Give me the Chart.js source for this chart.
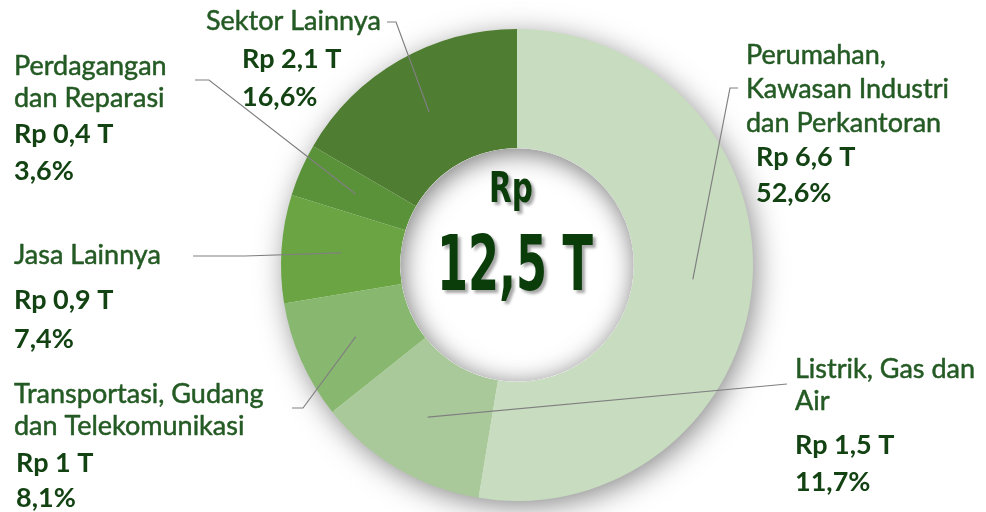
<!DOCTYPE html>
<html>
<head>
<meta charset="utf-8">
<script src="https://cdn.jsdelivr.net/npm/chart.js@4.4.0/dist/chart.umd.min.js"></script>
<style>
  body { margin: 0; background: #fff; }
  #wrap { width: 986px; height: 512px; }
</style>
</head>
<body>
<div id="wrap"><canvas id="investChart" width="986" height="512"></canvas></div>
<script>
// sektor, nilai (Rp triliun) dan porsi (%)
const categories = [
    ['Perumahan,', 'Kawasan Industri', 'dan Perkantoran'],
    ['Listrik, Gas dan', 'Air'],
    ['Transportasi, Gudang', 'dan Telekomunikasi'],
    ['Jasa Lainnya'],
    ['Perdagangan', 'dan Reparasi'],
    ['Sektor Lainnya']
];
const valuesT = [6.6, 1.5, 1, 0.9, 0.4, 2.1];
const shares = [52.6, 11.7, 8.1, 7.4, 3.6, 16.6];
const totalLabel = ['Rp', '12,5 T'];

const sliceColors = ['#c8dcc0', '#a9c99a', '#88b76f', '#6aa443', '#5a9239', '#4f7d31'];

// where each label sits, and the bend of its leader line
const labelLayout = [
    { x: 746, names: [64, 98, 132], vx: 756, vy: 166, sy: 202, leader: [[738, 88], [730, 88]] },
    { x: 795, names: [378, 410], vx: 795, vy: 454, sy: 491, leader: [[787, 384]] },
    { x: 14, names: [403, 435], vx: 16, vy: 472, sy: 507, leader: [[292, 408], [303, 408]] },
    { x: 14, names: [264], vx: 14, vy: 309, sy: 348, leader: [[193, 256], [245, 256]] },
    { x: 14, names: [75, 107], vx: 14, vy: 143, sy: 180, leader: [[195, 80], [209, 80]] },
    { x: 206, names: [30], vx: 242, vy: 68, sy: 106, leader: [[387, 22], [396, 22]] }
];

const fmt = v => String(v).replace('.', ',');

const ringShadow = {
    id: 'ringShadow',
    beforeDatasetsDraw(chart) {
        const arc = chart.getDatasetMeta(0).data[0];
        const ctx = chart.ctx;
        ctx.save();
        ctx.shadowColor = 'rgba(0,0,0,0.5)';
        ctx.shadowBlur = 30;
        ctx.shadowOffsetX = 4;
        ctx.shadowOffsetY = 6;
        ctx.fillStyle = '#fff';
        ctx.beginPath();
        ctx.arc(arc.x, arc.y, arc.outerRadius - 2, 0, Math.PI * 2);
        ctx.fill();
        ctx.restore();
    },
    afterDatasetsDraw(chart) {
        const meta = chart.getDatasetMeta(0);
        const arc = meta.data[0];
        const ctx = chart.ctx;

        // inner shadow of the hole
        ctx.save();
        ctx.beginPath();
        ctx.arc(arc.x, arc.y, arc.innerRadius, 0, Math.PI * 2);
        ctx.clip();
        ctx.fillStyle = '#fff';
        ctx.fill();
        ctx.shadowColor = 'rgba(0,0,0,0.55)';
        ctx.shadowBlur = 26;
        ctx.shadowOffsetX = 2;
        ctx.shadowOffsetY = 4;
        ctx.strokeStyle = '#fff';
        ctx.lineWidth = 30;
        ctx.beginPath();
        ctx.arc(arc.x, arc.y, arc.innerRadius + 15, 0, Math.PI * 2);
        ctx.stroke();
        ctx.restore();

        // total in the middle
        ctx.save();
        ctx.fillStyle = '#0b3d0b';
        ctx.textAlign = 'center';
        ctx.textBaseline = 'alphabetic';
        ctx.shadowColor = 'rgba(0,0,0,0.35)';
        ctx.shadowBlur = 3;
        ctx.shadowOffsetX = 3;
        ctx.shadowOffsetY = 3;
        ctx.font = 'bold 42px "Liberation Sans Narrow", "DejaVu Sans Condensed", sans-serif';
        ctx.fillText(totalLabel[0], 511, 202, 44);
        ctx.font = 'bold 76px "Liberation Sans Narrow", "DejaVu Sans Condensed", sans-serif';
        ctx.fillText(totalLabel[1], 515, 290, 156);
        ctx.restore();

        // leader lines
        ctx.save();
        ctx.strokeStyle = '#808080';
        ctx.lineWidth = 1.2;
        meta.data.forEach((el, i) => {
            const c = el.tooltipPosition();
            const pts = labelLayout[i].leader;
            ctx.beginPath();
            ctx.moveTo(pts[0][0], pts[0][1]);
            for (let k = 1; k < pts.length; k++) ctx.lineTo(pts[k][0], pts[k][1]);
            ctx.lineTo(c.x, c.y);
            ctx.stroke();
        });
        ctx.restore();

        // labels
        ctx.save();
        ctx.textAlign = 'left';
        ctx.textBaseline = 'alphabetic';
        ctx.lineJoin = 'round';
        categories.forEach((name, i) => {
            const L = labelLayout[i];
            ctx.fillStyle = '#245a24';
            ctx.strokeStyle = '#245a24';
            ctx.lineWidth = 0.5;
            ctx.font = '27px Lato, sans-serif';
            name.forEach((line, k) => {
                ctx.fillText(line, L.x, L.names[k]);
                ctx.strokeText(line, L.x, L.names[k]);
            });
            ctx.fillStyle = '#134313';
            ctx.font = 'bold 27px Lato, sans-serif';
            ctx.fillText('Rp ' + fmt(valuesT[i]) + ' T', L.vx, L.vy);
            ctx.fillText(fmt(shares[i]) + '%', L.vx, L.sy);
        });
        ctx.restore();
    }
};

const ctx = document.getElementById('investChart').getContext('2d');

const doughnut = new Chart(ctx, {
    type: 'doughnut',
    data: {
        labels: categories.map(c => c.join(' ')),
        datasets: [{
            data: shares,
            backgroundColor: sliceColors,
            borderWidth: 0
        }]
    },
    options: {
        responsive: false,
        animation: false,
        cutout: '49.5%',
        layout: { padding: { top: 29, bottom: 11, left: 48, right: 0 } },
        plugins: {
            legend: { display: false },
            tooltip: { enabled: false }
        }
    },
    plugins: [ringShadow]
});
</script>
</body>
</html>
